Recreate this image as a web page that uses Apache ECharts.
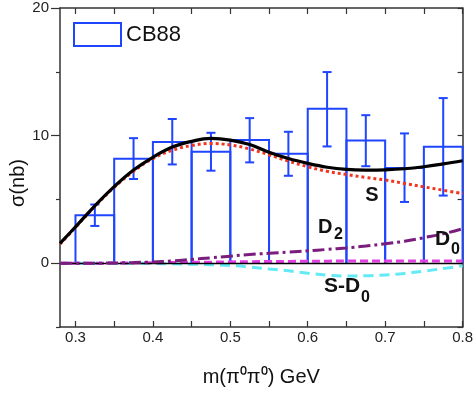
<!DOCTYPE html>
<html>
<head>
<meta charset="utf-8">
<script src="https://cdn.jsdelivr.net/npm/echarts@6/dist/echarts.min.js"></script>
<style>
  html, body { margin: 0; padding: 0; background: #fff; }
  #chart { width: 476px; height: 396px; }
</style>
</head>
<body>
<div id="chart"></div>
<script>
// CB88 histogram bins (GeV) and cross sections (nb)
const binLow = [0.30, 0.35, 0.40, 0.45, 0.50, 0.55, 0.60, 0.65, 0.70, 0.75];
const binHigh = [0.35, 0.40, 0.45, 0.50, 0.55, 0.60, 0.65, 0.70, 0.75, 0.80];
const cb88 = [3.75, 8.18, 9.5, 8.73, 9.65, 8.57, 12.1, 9.62, 7.47, 9.12];
const errHigh = [4.6, 9.8, 11.3, 10.22, 11.37, 10.3, 14.98, 11.6, 10.17, 12.94];
const errLow = [2.92, 6.6, 7.74, 7.25, 7.9, 6.85, 9.15, 7.6, 4.8, 5.3];

// fit curves, read at these masses
const mass = [0.28, 0.30, 0.325, 0.35, 0.375, 0.40, 0.425, 0.45, 0.475, 0.50, 0.525,
  0.55, 0.575, 0.60, 0.625, 0.65, 0.675, 0.70, 0.725, 0.75, 0.775, 0.80];
const total = [1.55, 2.85, 4.5, 6.0, 7.3, 8.3, 9.1, 9.55, 9.78, 9.65, 9.3,
  8.7, 8.2, 7.82, 7.52, 7.35, 7.3, 7.32, 7.4, 7.56, 7.78, 8.03];
const waveS = [1.5, 2.8, 4.45, 5.95, 7.2, 8.2, 8.85, 9.22, 9.38, 9.27, 8.95,
  8.5, 8.0, 7.56, 7.2, 6.95, 6.72, 6.52, 6.25, 5.98, 5.72, 5.46];
const waveD2 = [0, 0, 0, 0.02, 0.05, 0.1, 0.18, 0.3, 0.42, 0.55, 0.68,
  0.78, 0.87, 0.97, 1.08, 1.2, 1.35, 1.52, 1.72, 2.0, 2.3, 2.7];
const waveD0 = [0, 0, 0, 0.01, 0.02, 0.04, 0.05, 0.07, 0.08, 0.1, 0.12,
  0.13, 0.14, 0.15, 0.16, 0.17, 0.17, 0.18, 0.18, 0.18, 0.18, 0.17];
const interfSD0 = [0, 0, 0, 0, 0, -0.02, -0.05, -0.08, -0.12, -0.18, -0.3,
  -0.45, -0.6, -0.78, -0.93, -1.0, -0.99, -0.92, -0.8, -0.62, -0.42, -0.2];

const xTicks = [0.30, 0.35, 0.40, 0.45, 0.50, 0.55, 0.60, 0.65, 0.70, 0.75, 0.80];
const xLabels = [0.3, 0.4, 0.5, 0.6, 0.7, 0.8];
const yLabels = [0, 10, 20];
const yMinorTicks = [-5, 5, 15];
const yAllTicks = [-5, 0, 5, 10, 15, 20];

const blue = "#1f45ff";
const axisColor = "#333";
const font = "Arial, 'Liberation Sans', sans-serif";

const pairs = (ys) => mass.map((m, i) => [m, ys[i]]);

const chart = echarts.init(document.getElementById("chart"));

const baseX = {
  type: "value",
  min: 0.28,
  max: 0.8,
  splitLine: { show: false },
  axisLine: { onZero: false, lineStyle: { color: axisColor, width: 1.5 } },
};
const baseY = {
  type: "value",
  min: -5,
  max: 20,
  splitLine: { show: false },
};

chart.setOption({
  animation: false,
  backgroundColor: "#fff",
  textStyle: { fontFamily: font },
  grid: { left: 60, right: 10, top: 8, bottom: 69 },
  legend: {
    left: 73,
    top: 22,
    padding: 0,
    itemWidth: 47,
    itemHeight: 23,
    itemGap: 5,
    textStyle: { fontSize: 22, color: "#111", fontFamily: font },
    data: [{ name: "CB88", icon: "rect", itemStyle: { color: "#fff", borderColor: blue, borderWidth: 2 } }],
  },
  xAxis: [
    {
      ...baseX,
      position: "bottom",
      name: "m(π⁰π⁰) GeV",
      nameLocation: "middle",
      nameGap: 40,
      nameTextStyle: { fontSize: 20, color: "#111", fontFamily: font },
      axisTick: { inside: true, length: 6, customValues: xTicks, lineStyle: { color: axisColor, width: 1.2 } },
      axisLabel: {
        customValues: xLabels,
        margin: 3,
        fontSize: 15,
        color: "#222",
        formatter: (v) => v.toFixed(1),
      },
    },
    {
      ...baseX,
      position: "top",
      axisTick: { inside: true, length: 6, customValues: xTicks, lineStyle: { color: axisColor, width: 1.2 } },
      axisLabel: { show: false },
    },
  ],
  yAxis: [
    {
      ...baseY,
      position: "left",
      axisLine: { show: true, onZero: false, lineStyle: { color: axisColor, width: 1.5 } },
      axisTick: { length: 9, customValues: yLabels, lineStyle: { color: axisColor, width: 1.2 } },
      axisLabel: { customValues: yLabels, margin: 11, fontSize: 15, color: "#222" },
    },
    {
      ...baseY,
      position: "left",
      axisLine: { show: false, onZero: false },
      axisTick: { length: 4, customValues: yMinorTicks, lineStyle: { color: axisColor, width: 1.2 } },
      axisLabel: { show: false },
    },
    {
      ...baseY,
      position: "right",
      axisLine: { show: true, onZero: false, lineStyle: { color: axisColor, width: 1.5 } },
      axisTick: { inside: true, length: 5, customValues: yAllTicks, lineStyle: { color: axisColor, width: 1.2 } },
      axisLabel: { show: false },
    },
  ],
  graphic: [
    { type: "text", x: 18, y: 183, rotation: Math.PI / 2,
      style: { text: "σ(nb)", fontSize: 20, fontFamily: font, fill: "#111", align: "center", verticalAlign: "middle" } },
    { type: "text", x: 372, y: 195, z: 50,
      style: { text: "S", fontSize: 20, fontWeight: "bold", fontFamily: font, fill: "#111", align: "center", verticalAlign: "middle" } },
    { type: "text", x: 318, y: 217, z: 50,
      style: { text: "D", fontSize: 20, fontWeight: "bold", fontFamily: font, fill: "#111" } },
    { type: "text", x: 334, y: 227, z: 50,
      style: { text: "2", fontSize: 16, fontWeight: "bold", fontFamily: font, fill: "#111" } },
    { type: "text", x: 435, y: 229, z: 50,
      style: { text: "D", fontSize: 21, fontWeight: "bold", fontFamily: font, fill: "#111" } },
    { type: "text", x: 451, y: 242, z: 50,
      style: { text: "0", fontSize: 16, fontWeight: "bold", fontFamily: font, fill: "#111" } },
    { type: "text", x: 324, y: 276, z: 50,
      style: { text: "S-D", fontSize: 21, fontWeight: "bold", fontFamily: font, fill: "#111" } },
    { type: "text", x: 361, y: 290, z: 50,
      style: { text: "0", fontSize: 16, fontWeight: "bold", fontFamily: font, fill: "#111" } },
  ],
  series: [
    {
      name: "CB88",
      type: "custom",
      z: 2,
      encode: { x: [0, 1], y: 2 },
      data: binLow.map((lo, i) => [lo, binHigh[i], cb88[i]]),
      renderItem: (params, api) => {
        const a = api.coord([api.value(0), 0]);
        const b = api.coord([api.value(0), api.value(2)]);
        const c = api.coord([api.value(1), api.value(2)]);
        const d = api.coord([api.value(1), 0]);
        return {
          type: "polyline",
          shape: { points: [a, b, c, d] },
          style: { stroke: blue, lineWidth: 2, fill: null },
        };
      },
      markLine: {
        silent: true,
        symbol: "none",
        label: { show: false },
        lineStyle: { color: "#000", width: 1.3, type: "solid" },
        data: [{ yAxis: 0 }],
      },
    },
    {
      name: "CB88 error",
      type: "custom",
      z: 2,
      encode: { x: 0, y: [1, 2] },
      data: binLow.map((lo, i) => [(lo + binHigh[i]) / 2, errLow[i], errHigh[i]]),
      renderItem: (params, api) => {
        const lo = api.coord([api.value(0), api.value(1)]);
        const hi = api.coord([api.value(0), api.value(2)]);
        const cap = 4.5;
        const style = { stroke: blue, lineWidth: 2 };
        return {
          type: "group",
          children: [
            { type: "line", shape: { x1: lo[0], y1: lo[1], x2: hi[0], y2: hi[1] }, style },
            { type: "line", shape: { x1: lo[0] - cap, y1: lo[1], x2: lo[0] + cap, y2: lo[1] }, style },
            { type: "line", shape: { x1: hi[0] - cap, y1: hi[1], x2: hi[0] + cap, y2: hi[1] }, style },
          ],
        };
      },
    },
    {
      name: "S-D0", type: "line", smooth: 0.4, showSymbol: false, z: 3,
      data: pairs(interfSD0),
      lineStyle: { color: "#62eaf5", width: 3, type: [10, 6] },
    },
    {
      name: "D0", type: "line", smooth: 0.4, showSymbol: false, z: 4,
      data: pairs(waveD0),
      lineStyle: { color: "#e03ee0", width: 3, type: [8, 4] },
    },
    {
      name: "D2", type: "line", smooth: 0.4, showSymbol: false, z: 5,
      data: pairs(waveD2),
      lineStyle: { color: "#7a1d7d", width: 3, type: [12, 4, 3, 4] },
    },
    {
      name: "S", type: "line", smooth: 0.4, showSymbol: false, z: 6,
      data: pairs(waveS),
      lineStyle: { color: "#f2351f", width: 3, type: [3, 3] },
    },
    {
      name: "total", type: "line", smooth: 0.4, showSymbol: false, z: 7,
      data: pairs(total),
      lineStyle: { color: "#000", width: 3.2 },
    },
  ],
});
</script>
</body>
</html>
